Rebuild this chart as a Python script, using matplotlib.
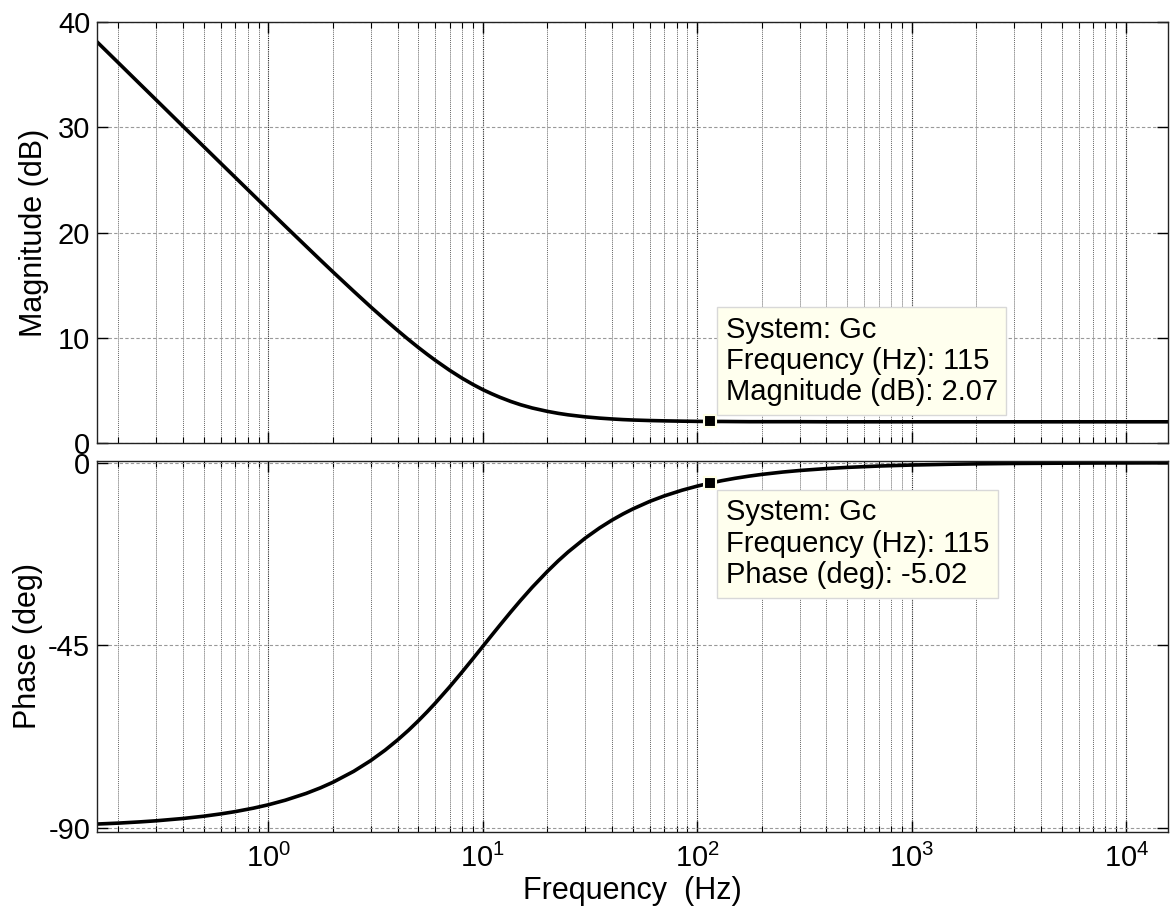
import matplotlib
matplotlib.use("Agg")
import matplotlib.pyplot as plt
from matplotlib.ticker import LogLocator, NullFormatter

# -----------------------------
# Data (Bode plot of Gc)
# -----------------------------

freq_hz = [0.159, 0.2, 0.25, 0.3, 0.4, 0.5, 0.6, 0.7, 0.85, 1, 1.2, 1.5,
           1.75, 2, 2.5, 3, 3.5, 4, 4.5, 5, 5.5, 6, 7, 8, 9, 10, 11, 12,
           13.5, 15, 17, 20, 22.5, 25, 30, 35, 40, 45, 50, 60, 70, 85, 100,
           115, 130, 150, 175, 200, 250, 300, 400, 500, 700, 1000, 1500,
           2000, 3000, 5000, 8000, 15600]

magnitude_db = [38.10, 36.11, 34.17, 32.59, 30.09, 28.16, 26.58, 25.25, 23.57,
                22.17, 20.60, 18.70, 17.39, 16.27, 14.43, 12.95, 11.74, 10.72,
                9.85, 9.10, 8.45, 7.88, 6.93, 6.18, 5.58, 5.09, 4.70, 4.37,
                3.97, 3.66, 3.35, 3.03, 2.84, 2.70, 2.51, 2.39, 2.31, 2.25,
                2.21, 2.16, 2.13, 2.10, 2.08, 2.07, 2.07, 2.06, 2.05, 2.05,
                2.05, 2.05, 2.04, 2.04, 2.04, 2.04, 2.04, 2.04, 2.04, 2.04,
                2.04, 2.04]

phase_deg = [-89.10, -88.87, -88.58, -88.30, -87.73, -87.17, -86.60, -86.04,
             -85.19, -84.35, -83.22, -81.55, -80.17, -78.80, -76.10, -73.46,
             -70.89, -68.39, -65.99, -63.66, -61.43, -59.29, -55.28, -51.62,
             -48.30, -45.29, -42.56, -40.09, -36.80, -33.95, -30.71, -26.80,
             -24.17, -22.00, -18.61, -16.10, -14.17, -12.65, -11.42, -9.55,
             -8.21, -6.78, -5.77, -5.02, -4.44, -3.85, -3.30, -2.89, -2.31,
             -1.93, -1.45, -1.16, -0.83, -0.58, -0.39, -0.29, -0.19, -0.12,
             -0.07, -0.04]

cursor_freq = 115
cursor_mag = 2.07
cursor_phase = -5.02

mag_ticks = [0, 10, 20, 30, 40]
phase_ticks = [-90, -45, 0]

# -----------------------------
# Style
# -----------------------------

plt.rcParams.update({
    "font.family": ["Liberation Sans", "DejaVu Sans"],
    "font.size": 21,
    "axes.linewidth": 1.0,
    "axes.unicode_minus": False,
})

fig = plt.figure(figsize=(11.7, 9.14), dpi=100)
ax_mag = fig.add_axes([0.083, 0.515, 0.915, 0.461])
ax_ph = fig.add_axes([0.083, 0.090, 0.915, 0.406], sharex=ax_mag)


def style_axes(ax):
    ax.set_xscale("log")
    ax.xaxis.set_major_locator(LogLocator(base=10, numticks=20))
    ax.xaxis.set_minor_locator(LogLocator(base=10, subs=range(2, 10), numticks=20))
    ax.xaxis.set_minor_formatter(NullFormatter())
    ax.grid(which="major", axis="x", color="#222222", ls=(0, (1, 1)), lw=0.8)
    ax.grid(which="minor", axis="x", color="#666666", ls=(0, (1, 1)), lw=0.7)
    ax.grid(which="major", axis="y", color="#999999", ls=(0, (3, 2)), lw=0.8)
    ax.tick_params(which="both", direction="in", top=True, right=True,
                   labelsize=21, colors="black", pad=5)
    ax.tick_params(axis="x", which="both", pad=9)
    ax.tick_params(which="major", length=8, width=1.0)
    ax.tick_params(which="minor", length=4, width=0.8)
    for s in ax.spines.values():
        s.set_color("#222222")


# -----------------------------
# Magnitude
# -----------------------------

style_axes(ax_mag)
ax_mag.plot(freq_hz, magnitude_db, color="black", lw=2.6)
ax_mag.set_xlim(0.159, 15600)
ax_mag.set_ylim(0, 40)
ax_mag.set_yticks(mag_ticks)
ax_mag.tick_params(axis="x", labelbottom=False)
ax_mag.set_ylabel("Magnitude (dB)", fontsize=22, labelpad=6)

ax_mag.plot([cursor_freq], [cursor_mag], marker="s", ms=8, mfc="black",
            mec="#FFFFE6", mew=1.5, zorder=5)
ax_mag.annotate(
    "System: Gc\nFrequency (Hz): 115\nMagnitude (dB): 2.07",
    xy=(cursor_freq, cursor_mag), xytext=(11, 11), textcoords="offset points",
    ha="left", va="bottom", fontsize=21, linespacing=1.15,
    bbox=dict(boxstyle="square,pad=0.3", fc="#FFFFEE", ec="#D8D8D8", lw=1),
    zorder=6
)

# -----------------------------
# Phase
# -----------------------------

style_axes(ax_ph)
ax_ph.plot(freq_hz, phase_deg, color="black", lw=2.6)
ax_ph.set_ylim(-91, 0.5)
ax_ph.set_yticks(phase_ticks)
ax_ph.set_ylabel("Phase (deg)", fontsize=22, labelpad=4)
ax_ph.set_xlabel("Frequency  (Hz)", fontsize=22, labelpad=2)

ax_ph.plot([cursor_freq], [cursor_phase], marker="s", ms=8, mfc="black",
           mec="#FFFFE6", mew=1.5, zorder=5)
ax_ph.annotate(
    "System: Gc\nFrequency (Hz): 115\nPhase (deg): -5.02",
    xy=(cursor_freq, cursor_phase), xytext=(11, -11), textcoords="offset points",
    ha="left", va="top", fontsize=21, linespacing=1.15,
    bbox=dict(boxstyle="square,pad=0.3", fc="#FFFFEE", ec="#D8D8D8", lw=1),
    zorder=6
)

fig.savefig("out.png", dpi=100)
plt.close(fig)
